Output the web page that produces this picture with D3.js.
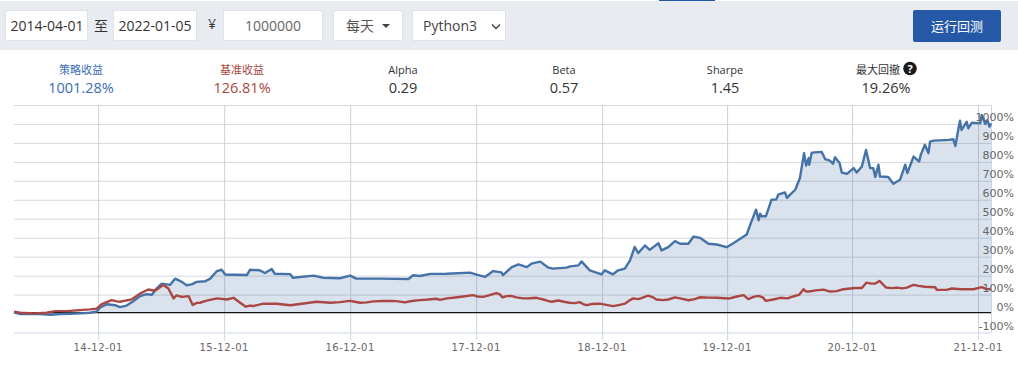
<!DOCTYPE html>
<html>
<head>
<meta charset="utf-8">
<script src="https://cdn.jsdelivr.net/npm/d3@7"></script>
<style>
    html, body { margin: 0; padding: 0; background: #fff; overflow: hidden; }
    svg { display: block; }
    text { font-family: "Open Sans", "Noto Sans CJK SC", sans-serif; }
    .cjk { font-family: "Noto Sans CJK SC", sans-serif; }
</style>
</head>
<body>
<div id="chart"></div>
<script>
// header texts
const statLabels = ['策略收益', '基准收益', 'Alpha', 'Beta', 'Sharpe', '最大回撤'];
const statValues = ['1001.28%', '126.81%', '0.29', '0.57', '1.45', '19.26%'];
const statColors = ['#3b6db3', '#a8493f', '#333', '#333', '#333', '#333'];

// the chart is category based: x is the trading day counted from 2014-04-01
const tickDays = [163, 407, 651, 895, 1139, 1381, 1623, 1867];
const tickLabels = ['14-12-01', '15-12-01', '16-12-01', '17-12-01', '18-12-01', '19-12-01', '20-12-01', '21-12-01'];
const yTicks = [-100, 0, 100, 200, 300, 400, 500, 600, 700, 800, 900, 1000, 1100];

const strategyDays = [0, 12, 31, 50, 70, 89, 109, 128, 147, 160, 167, 180, 196, 205, 218, 231, 244, 257, 267, 276, 286, 302, 312, 325, 334, 344, 354, 370, 380, 393, 402, 409, 425, 451, 457, 476, 486, 499, 505, 535, 540, 580, 599, 631,
    651, 663, 709, 764, 773, 786, 806, 838, 883, 896, 912, 928, 944, 947, 964, 977, 993, 1002, 1019, 1035, 1044, 1070, 1077, 1093, 1099, 1115, 1138, 1144, 1160, 1170, 1183, 1193, 1202, 1209, 1222, 1231, 1248, 1254, 1267, 1280, 1290,
    1306, 1316, 1329, 1345, 1361, 1380, 1393, 1419, 1426, 1437, 1442, 1445, 1448, 1456, 1461, 1467, 1476, 1480, 1493, 1497, 1503, 1513, 1522, 1530, 1534, 1539, 1540, 1545, 1564, 1571, 1580, 1586, 1590, 1599, 1603, 1613, 1626, 1632, 1642, 1650, 1658, 1664, 1668, 1674, 1677, 1693, 1703, 1716, 1726, 1730, 1742, 1753, 1756, 1764, 1771, 1774, 1781, 1810, 1819, 1823, 1828, 1832, 1835, 1845, 1848, 1855, 1871, 1874, 1881, 1885, 1889, 1892];
const strategyValues = [6, -3, -3, -3, -6, -3, -1, 1, 4, 11, 32, 49, 44, 34, 42, 65, 92, 102, 99, 132, 158, 151, 184, 167, 149, 154, 167, 170, 184, 224, 231, 206, 205, 203, 231, 228, 214, 235, 210, 208, 189, 200, 189, 186,
    200, 184, 184, 182, 202, 198, 209, 210, 216, 205, 193, 224, 217, 203, 245, 259, 245, 263, 274, 242, 237, 242, 249, 254, 275, 228, 207, 228, 207, 228, 237, 280, 351, 319, 359, 336, 371, 333, 350, 382, 368,
    368, 406, 399, 368, 364, 350, 371, 417, 470, 548, 492, 527, 513, 513, 552, 601, 601, 627, 639, 610, 627, 653, 715, 846, 780, 820, 785, 849, 853, 814, 807, 790, 825, 793, 744, 737, 767, 744, 776, 863, 767, 767, 720, 785, 723, 720, 685, 706, 785, 741, 828, 802, 837, 890, 846, 907, 912, 916, 919, 884, 960, 1017, 968, 1012, 977, 1007, 1003, 1047, 1000, 1021, 986, 1003];

const benchmarkDays = [0, 12, 38, 63, 80, 102, 128, 147, 160, 170, 189, 199, 205, 228, 244, 260, 273, 289, 299, 309, 315, 325, 338, 346, 354, 360, 373, 393, 412, 425, 438, 449, 457, 464, 483, 509, 535, 561, 586, 612, 631,
    651, 660, 670, 683, 696, 715, 734, 744, 757, 770, 786, 802, 818, 825, 838, 850, 870, 889, 897, 909, 921, 934, 941, 946, 954, 963, 973, 986, 999, 1012, 1025, 1034, 1041, 1054, 1065, 1076, 1086, 1096, 1102, 1109, 1118, 1134, 1147, 1160, 1173, 1183, 1193, 1199, 1209, 1215, 1228, 1238, 1244, 1257, 1267, 1280, 1290,
    1306, 1318, 1329, 1345, 1361, 1384, 1400, 1413, 1422, 1432, 1442, 1450, 1456, 1470, 1484, 1498, 1509, 1521, 1529, 1534, 1539, 1553, 1568, 1580, 1593, 1606, 1629, 1642, 1651, 1660, 1668, 1676, 1689, 1700, 1710, 1720, 1729, 1742, 1752, 1764, 1784, 1787, 1806, 1816, 1835, 1858, 1874, 1882, 1892];
const benchmarkValues = [10, 4, 1, 4, 13, 13, 18, 22, 26, 50, 71, 64, 62, 75, 105, 127, 120, 150, 132, 80, 96, 88, 92, 45, 56, 57, 68, 80, 74, 83, 57, 36, 42, 40, 52, 52, 44, 53, 62, 57, 60,
    67, 62, 57, 59, 64, 66, 67, 64, 59, 66, 71, 74, 78, 72, 80, 83, 90, 97, 90, 88, 97, 108, 101, 85, 92, 93, 85, 80, 81, 83, 74, 67, 62, 69, 62, 57, 55, 60, 50, 44, 50, 52, 46, 39, 46, 52, 71, 80, 76, 81, 94, 85, 74, 71, 74, 85, 80,
    70, 76, 86, 84, 83, 79, 90, 97, 76, 88, 93, 85, 67, 74, 83, 80, 90, 100, 128, 116, 116, 122, 126, 116, 118, 128, 135, 135, 163, 158, 158, 172, 137, 134, 137, 133, 137, 151, 146, 141, 139, 125, 125, 132, 128, 128, 139, 130, 128];

const width = 1018, height = 371;

const svg = d3.select('#chart').append('svg')
    .attr('width', width)
    .attr('height', height);

// ---- toolbar
svg.append('rect').attr('x', 0).attr('y', 1).attr('width', width).attr('height', 49).attr('fill', '#e8ebf0');
svg.append('rect').attr('x', 659).attr('y', 0).attr('width', 56).attr('height', 1).attr('fill', '#2559a8');

function inputBox(x0, x1) {
    svg.append('rect')
        .attr('x', x0 + 0.5).attr('y', 10.5)
        .attr('width', x1 - x0 - 1).attr('height', 30)
        .attr('fill', '#fff').attr('stroke', '#dfe3e8');
}
function toolbarText(str, x, anchor, color) {
    return svg.append('text')
        .attr('x', x).attr('y', 31)
        .attr('text-anchor', anchor)
        .attr('font-size', 14)
        .attr('fill', color)
        .text(str);
}

inputBox(5, 88);
inputBox(113, 197);
inputBox(223, 323);
inputBox(333, 403);
inputBox(412, 506);

toolbarText('2014-04-01', 47, 'middle', '#333');
toolbarText('至', 101, 'middle', '#333').attr('class', 'cjk');
toolbarText('2022-01-05', 155, 'middle', '#333');
toolbarText('¥', 212, 'middle', '#333').attr('y', 29);
toolbarText('1000000', 273, 'middle', '#666');
toolbarText('每天', 360, 'middle', '#555').attr('class', 'cjk');
toolbarText('Python3', 423, 'start', '#444');

// dropdown carets
svg.append('path').attr('d', 'M382,24 h8 l-4,4 z').attr('fill', '#444');
svg.append('path').attr('d', 'M492,24.5 l4,4 l4,-4').attr('fill', 'none').attr('stroke', '#444').attr('stroke-width', 1.4);

svg.append('rect')
    .attr('x', 913).attr('y', 10)
    .attr('width', 88).attr('height', 32)
    .attr('rx', 2)
    .attr('fill', '#2559a8');
svg.append('text')
    .attr('class', 'cjk')
    .attr('x', 957).attr('y', 31)
    .attr('text-anchor', 'middle')
    .attr('font-size', 13)
    .attr('fill', '#fff')
    .text('运行回测');

// ---- stats row
const statX = d3.scalePoint().domain(d3.range(statLabels.length)).range([81, 886]);

statLabels.forEach((label, i) => {
    svg.append('text')
        .attr('x', i === 5 ? 878 : statX(i)).attr('y', 74)
        .attr('text-anchor', 'middle')
        .attr('font-size', 11)
        .attr('fill', statColors[i])
        .text(label);
    svg.append('text')
        .attr('x', statX(i)).attr('y', 93)
        .attr('text-anchor', 'middle')
        .attr('font-size', 14.5)
        .attr('fill', statColors[i])
        .text(statValues[i]);
});

// help icon next to the drawdown label
svg.append('circle').attr('cx', 910).attr('cy', 68.5).attr('r', 6.8).attr('fill', '#1a1a1a');
svg.append('text')
    .attr('x', 910).attr('y', 72.5)
    .attr('text-anchor', 'middle')
    .attr('font-size', 11)
    .attr('font-weight', 700)
    .attr('fill', '#fff')
    .text('?');

// ---- chart
const x = d3.scaleLinear().domain([0, 1893]).range([14, 991.5]);
const y = d3.scaleLinear().domain([-100, 1100]).range([332.5, 105]);
// the black zero line sits a pixel above where the 0 gridline would be
const zeroY = y(0) - 1;

const yGrid = svg.append('g')
    .attr('transform', 'translate(14,0)')
    .call(d3.axisRight(y).tickValues(yTicks.filter(d => d !== 0)).tickSize(977.5).tickFormat(''));
yGrid.select('.domain').remove();
yGrid.selectAll('line').attr('stroke', '#d6d8dc');
yGrid.selectAll('.tick').filter(d => d === -100).select('line').attr('stroke', '#ccd6eb');

const xGrid = svg.append('g')
    .attr('transform', 'translate(0,332.5)')
    .call(d3.axisBottom(x).tickValues(tickDays).tickSize(8).tickFormat(''));
xGrid.select('.domain').remove();
xGrid.selectAll('line').attr('stroke', '#ccd6eb');

const xGridUp = svg.append('g')
    .attr('transform', 'translate(0,332.5)')
    .call(d3.axisTop(x).tickValues(tickDays).tickSize(227.5).tickFormat(''));
xGridUp.select('.domain').remove();
xGridUp.selectAll('line').attr('stroke', '#ccd0d6');

// right border of the plot
svg.append('line')
    .attr('x1', 991.5).attr('x2', 991.5)
    .attr('y1', 105).attr('y2', 332.5)
    .attr('stroke', '#ccd6eb');

const strategy = strategyDays.map((d, i) => [d, strategyValues[i]]);
const benchmark = benchmarkDays.map((d, i) => [d, benchmarkValues[i]]);

const line = d3.line().x(d => x(d[0])).y(d => y(d[1]));
const area = d3.area().x(d => x(d[0])).y0(zeroY).y1(d => y(d[1]));

svg.append('path')
    .datum(strategy)
    .attr('d', area)
    .attr('fill', '#4572a7')
    .attr('fill-opacity', 0.2);

// zero line
svg.append('line')
    .attr('x1', 14).attr('x2', 991)
    .attr('y1', zeroY).attr('y2', zeroY)
    .attr('stroke', '#111')
    .attr('stroke-width', 1.2);

svg.append('path')
    .datum(strategy)
    .attr('d', line)
    .attr('fill', 'none')
    .attr('stroke', '#4572a7')
    .attr('stroke-width', 2.4)
    .attr('stroke-linejoin', 'round');

svg.append('path')
    .datum(benchmark)
    .attr('d', line)
    .attr('fill', 'none')
    .attr('stroke', '#aa4643')
    .attr('stroke-width', 2.4)
    .attr('stroke-linejoin', 'round');

// axis labels
svg.append('g').selectAll('text')
    .data(tickDays)
    .enter().append('text')
    .attr('x', d => x(d))
    .attr('y', 350.5)
    .attr('text-anchor', 'middle')
    .attr('font-size', 10)
    .attr('letter-spacing', 0.5)
    .attr('fill', '#666')
    .style('font-family', 'DejaVu Sans')
    .text((d, i) => tickLabels[i]);

svg.append('g').selectAll('text')
    .data(yTicks.filter(d => d <= 1000))
    .enter().append('text')
    .attr('x', 1014)
    .attr('y', d => y(d) - 2.5)
    .attr('text-anchor', 'end')
    .attr('font-size', 11)
    .attr('fill', '#666')
    .style('font-family', 'DejaVu Sans')
    .text(d => d + '%');
</script>
</body>
</html>
